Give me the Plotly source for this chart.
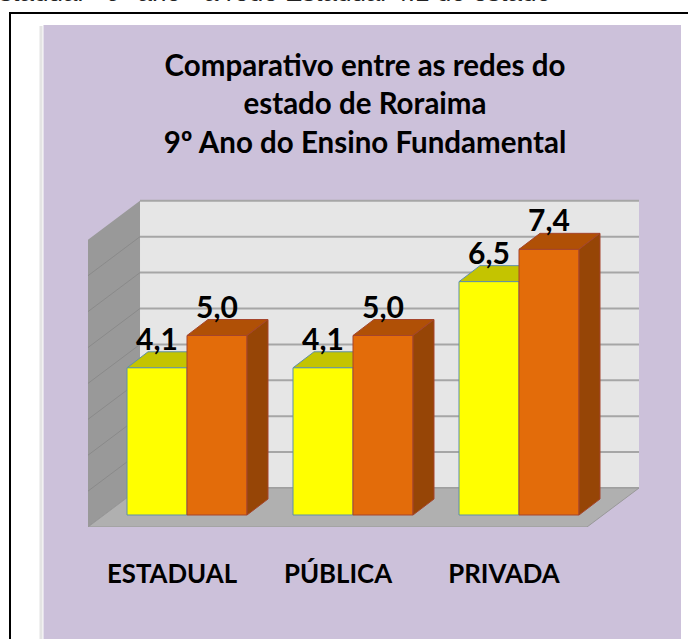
import plotly.graph_objects as go

categories = ["ESTADUAL", "PÚBLICA", "PRIVADA"]
serie_a = [4.1, 4.1, 6.5]
serie_b = [5.0, 5.0, 7.4]
labels_a = ["4,1", "4,1", "6,5"]
labels_b = ["5,0", "5,0", "7,4"]
grid_values = [0, 1, 2, 3, 4, 5, 6, 7, 8]
title_lines = ["Comparativo entre as redes do", "estado de Roraima", "9º Ano do Ensino Fundamental"]
top_text = "Estadual - 9º ano - a rede Estadual 4.1 do estado"

W, H, PLOT_H = 688, 639, 527
PX_X = 166.0   # pixels per category
PX_Y = 35.9    # pixels per value unit
X0_PX, Y0_PX = 187.0, 515.0  # pixel position of category 0 / value 0

BAR_W = 60 / PX_X
BAR_DX, BAR_DY = 21 / PX_X, 16 / PX_Y      # bar depth
FLOOR_L = (88 - X0_PX) / PX_X              # front-left corner of the floor
FLOOR_R = (587 - X0_PX) / PX_X
FLOOR_F = (Y0_PX - 527) / PX_Y
DEPTH_X, DEPTH_Y = 52 / PX_X, 39 / PX_Y

YELLOW, YELLOW_TOP, YELLOW_LINE = "#ffff00", "#c4c400", "#5f8fa8"
ORANGE, ORANGE_TOP, ORANGE_SIDE, ORANGE_LINE = "#e36c0a", "#b05006", "#964506", "#a5452c"
LILAC = "#ccc1da"
WALL, SIDE_WALL, FLOOR, GRID = "#e6e6e6", "#999999", "#b0b0b0", "#a6a6a6"
FONT = "Lato"


def poly(xs, ys):
    return "M" + " L".join(f"{x:.4f},{y:.4f}" for x, y in zip(xs, ys)) + " Z"


def px_x(p):
    return p / W


def px_y(p):
    return 1 - p / PLOT_H


shapes = [
    dict(type="rect", xref="paper", yref="paper", x0=px_x(10), x1=px_x(700), y0=px_y(13), y1=px_y(660),
         line=dict(color="#000000", width=2), fillcolor="#ffffff", layer="below"),
    dict(type="rect", xref="paper", yref="paper", x0=px_x(39.5), x1=px_x(42.5), y0=px_y(26), y1=px_y(639),
         line=dict(width=0), fillcolor="#e4e4e4", layer="below"),
    dict(type="rect", xref="paper", yref="paper", x0=px_x(43.5), x1=px_x(681), y0=px_y(25), y1=px_y(639),
         line=dict(width=0), fillcolor=LILAC, layer="below"),
]

back_bottom = FLOOR_F + DEPTH_Y
back_left = FLOOR_L + DEPTH_X
back_right = FLOOR_R + DEPTH_X
top_v = grid_values[-1]

# back wall, side wall, and their grid lines
shapes.append(dict(type="rect", xref="x", yref="y", x0=back_left, x1=back_right,
                   y0=back_bottom, y1=back_bottom + top_v, fillcolor=WALL, line=dict(width=0), layer="below"))
shapes.append(dict(type="path", xref="x", yref="y", layer="below", fillcolor=SIDE_WALL, line=dict(width=0),
                   path=poly([FLOOR_L, back_left, back_left, FLOOR_L],
                             [FLOOR_F, back_bottom, back_bottom + top_v, FLOOR_F + top_v])))
for v in grid_values:
    shapes.append(dict(type="line", xref="x", yref="y", layer="below", line=dict(color=GRID, width=2),
                       x0=back_left, x1=back_right, y0=back_bottom + v, y1=back_bottom + v))
    if v < top_v:
        shapes.append(dict(type="line", xref="x", yref="y", layer="below", line=dict(color="#8a8a8a", width=1),
                           x0=FLOOR_L, x1=back_left, y0=FLOOR_F + v, y1=back_bottom + v))
shapes.append(dict(type="path", xref="x", yref="y", layer="below", fillcolor=FLOOR,
                   line=dict(color="#989898", width=1),
                   path=poly([FLOOR_L, FLOOR_R, back_right, back_left],
                             [FLOOR_F, FLOOR_F, back_bottom, back_bottom])))

# tops of the yellow bars stay below the traces, so the orange bars hide them
for i, v in enumerate(serie_a):
    left = i - BAR_W
    right = i
    shapes.append(dict(type="path", xref="x", yref="y", layer="below", fillcolor=YELLOW_TOP,
                       line=dict(color=YELLOW_LINE, width=1),
                       path=poly([left, right, right + BAR_DX, left + BAR_DX], [v, v, v + BAR_DY, v + BAR_DY])))

x_idx = list(range(len(categories)))
fig = go.Figure()
fig.add_trace(go.Bar(x=x_idx, y=serie_a, width=BAR_W, offset=-BAR_W,
                     marker=dict(color=YELLOW, line=dict(color=YELLOW_LINE, width=1)), showlegend=False))
fig.add_trace(go.Bar(x=x_idx, y=serie_b, width=BAR_W, offset=0,
                     marker=dict(color=ORANGE, line=dict(color=ORANGE_LINE, width=1)), showlegend=False))

for i, v in enumerate(serie_b):
    left, right = i, i + BAR_W
    fig.add_trace(go.Scatter(x=[left, right, right + BAR_DX, left + BAR_DX, left],
                             y=[v, v, v + BAR_DY, v + BAR_DY, v], mode="lines", fill="toself",
                             fillcolor=ORANGE_TOP, line=dict(color=ORANGE_LINE, width=1), showlegend=False))
    fig.add_trace(go.Scatter(x=[right, right + BAR_DX, right + BAR_DX, right, right],
                             y=[0, BAR_DY, v + BAR_DY, v, 0], mode="lines", fill="toself",
                             fillcolor=ORANGE_SIDE, line=dict(color=ORANGE_LINE, width=1), showlegend=False))

label_font = dict(family=FONT, size=30, color="#000000", weight=700)
fig.add_trace(go.Scatter(x=[i - BAR_W / 2 for i in x_idx], y=[v + BAR_DY * 0.65 for v in serie_a],
                         mode="text", text=labels_a, textposition="top center", textfont=label_font,
                         cliponaxis=False, showlegend=False))
fig.add_trace(go.Scatter(x=[i + BAR_W / 2 for i in x_idx], y=[v + BAR_DY * 0.65 for v in serie_b],
                         mode="text", text=labels_b, textposition="top center", textfont=label_font,
                         cliponaxis=False, showlegend=False))

fig.update_layout(
    width=W, height=H, margin=dict(l=0, r=0, t=0, b=H - PLOT_H, pad=0),
    paper_bgcolor="#ffffff", plot_bgcolor="rgba(0,0,0,0)",
    shapes=shapes, showlegend=False, hovermode=False,
    title=dict(
        text="<br>".join(title_lines),
        font=dict(family=FONT, size=29.5, color="#000000", weight=700),
        x=365 / W, xanchor="center", y=1 - 76 / H, yanchor="top"),
    xaxis=dict(range=[(0 - X0_PX) / PX_X, (W - X0_PX) / PX_X], tickmode="array",
               tickvals=[i - 15 / PX_X for i in x_idx], ticktext=categories,
               ticks="outside", ticklen=24, tickcolor="rgba(0,0,0,0)", showgrid=False, zeroline=False,
               showline=False, tickfont=dict(family=FONT, size=25.8, color="#000000", weight=700)),
    yaxis=dict(range=[(Y0_PX - PLOT_H) / PX_Y, Y0_PX / PX_Y], visible=False, showgrid=False, zeroline=False),
    annotations=[dict(text=top_text, xref="paper", yref="paper", x=px_x(553), y=px_y(9), xanchor="right",
                      yanchor="bottom", showarrow=False,
                      font=dict(family="Liberation Sans", size=26, color="#222222"))],
)

fig.write_html("out.html", post_script="document.body.style.margin='0';", config={"displayModeBar": False})
